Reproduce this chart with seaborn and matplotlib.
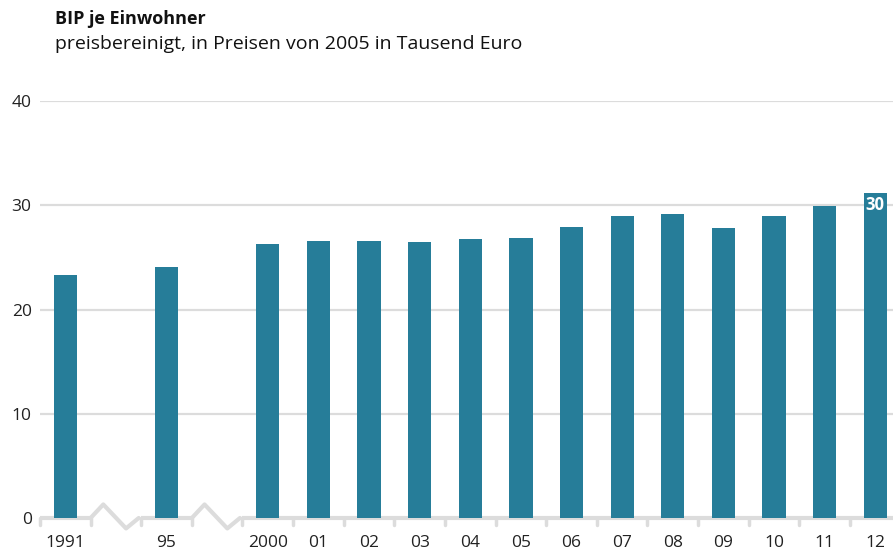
import matplotlib
matplotlib.use("Agg")
import matplotlib.pyplot as plt
import seaborn as sns
import pandas as pd

# --- Data ---
years = ["1991", "95", "2000", "01", "02", "03", "04", "05",
         "06", "07", "08", "09", "10", "11", "12"]
slots = [0, 2, 4, 5, 6, 7, 8, 9, 10, 11, 12, 13, 14, 15, 16]
gdp = [23.3, 24.1, 26.3, 26.6, 26.6, 26.5, 26.8, 26.9,
       27.9, 29.0, 29.2, 27.8, 29.0, 29.9, 31.2]
break_slots = [1, 3]
last_label = "30"

bar_color = "#267d99"
grid_color = "#dcdcdc"
text_color = "#222222"

sns.set_style("white")
plt.rcParams["font.family"] = ["Open Sans", "DejaVu Sans"]

df = pd.DataFrame({"slot": slots, "gdp": gdp})

fig = plt.figure(figsize=(8.93, 5.53), dpi=100)
ax = fig.add_axes([40 / 893, 35 / 553, 1 - 40 / 893, (518 - 101) / 553])

sns.barplot(data=df, x="slot", y="gdp", native_scale=True, color=bar_color,
            saturation=1, width=0.46, linewidth=0, ax=ax, zorder=3)

ax.set_xlim(-0.5, 16.35)
ax.set_ylim(0, 40)
ax.set_yticks([0, 10, 20, 30, 40])
ax.set_yticklabels(["0", "10", "20", "30", "40"], fontsize=12.5, color=text_color)
ax.set_xticks(slots)
ax.set_xticklabels(years, fontsize=12.5, color=text_color)
ax.tick_params(axis="x", length=0, pad=12)
ax.tick_params(axis="y", length=0, pad=6)
ax.set_xlabel("")
ax.set_ylabel("")
for s in ax.spines.values():
    s.set_visible(False)

# horizontal grid lines
for v in [10, 20, 30, 40]:
    ax.axhline(v, color=grid_color, lw=1.6, zorder=1)

# baseline with breaks (zigzag) and small ticks at slot borders
segments = []
start = -0.5
for b in break_slots:
    segments.append((start, b - 0.5))
    start = b + 0.5
segments.append((start, 16.5))
for a, b in segments:
    ax.plot([a, b], [0, 0], color=grid_color, lw=3, zorder=2, clip_on=False,
            solid_capstyle="butt")
for b in break_slots:
    ax.plot([b - 0.5, b - 0.25, b + 0.2, b + 0.45],
            [0, 1.3, -1.0, 0], color=grid_color, lw=3, zorder=2, clip_on=False)
tick_pos = [t + 0.5 for t in range(-1, 16)]
for t in tick_pos:
    ax.plot([t, t], [0, -0.7], color=grid_color, lw=2.5, zorder=2, clip_on=False)

# value label on last bar
ax.text(slots[-1], 30, last_label, color="white", fontsize=12, fontweight="bold",
        ha="center", va="center", zorder=4)

fig.text(55 / 893, 1 - 19 / 553, "BIP je Einwohner", fontsize=13,
         fontweight="bold", color="#111111", ha="left", va="center")
fig.text(55 / 893, 1 - 44 / 553, "preisbereinigt, in Preisen von 2005 in Tausend Euro",
         fontsize=14, color="#111111", ha="left", va="center")

fig.savefig("out.png", dpi=100)
